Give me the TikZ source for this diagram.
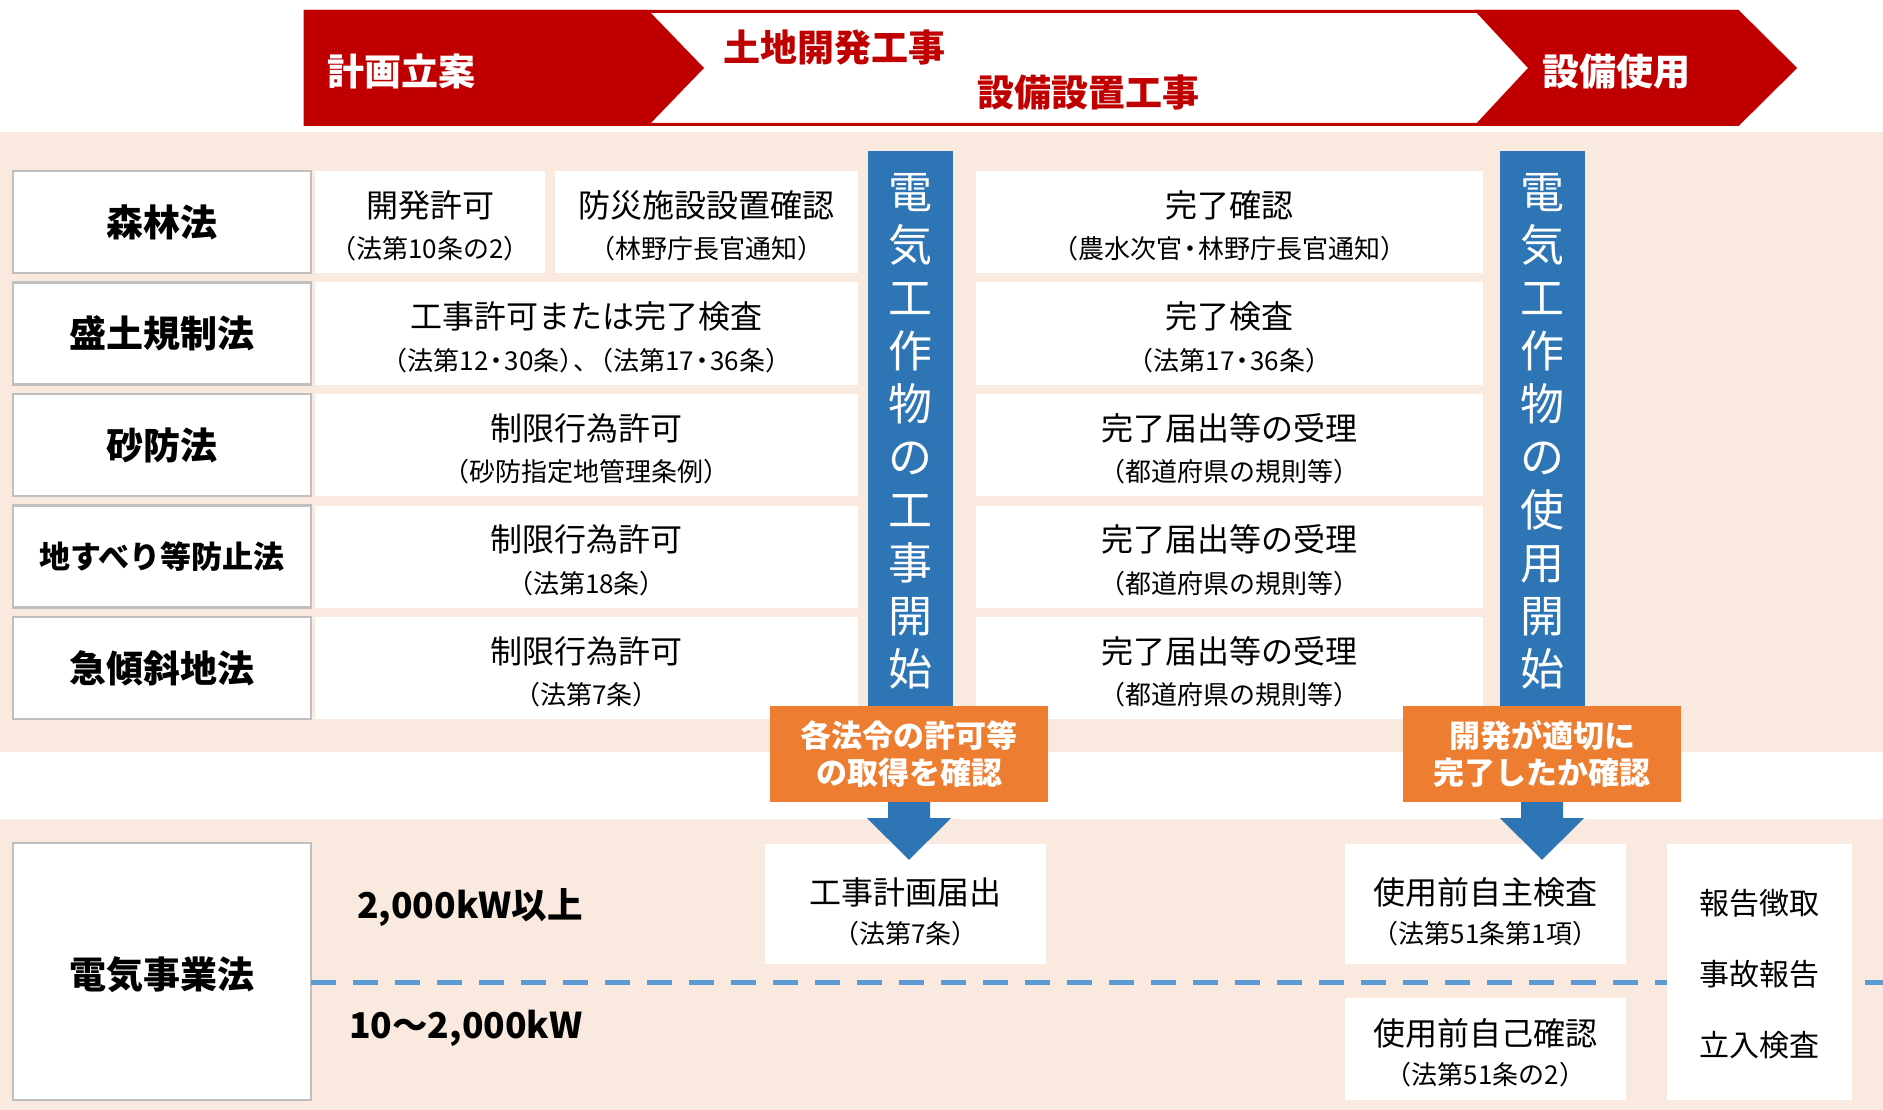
\documentclass[tikz,border=0pt]{standalone}
\usepackage{fontspec}
\setmainfont{Noto Sans CJK JP}
\usetikzlibrary{calc}
\definecolor{bred}{HTML}{C00000}
\definecolor{peach}{HTML}{FAE9DE}
\definecolor{bblue}{HTML}{2E75B6}
\definecolor{borange}{HTML}{ED7D31}
\definecolor{dblue}{HTML}{5B9BD5}
\definecolor{lgray}{HTML}{BFBFBF}
\newcommand\fs[1]{\fontsize{#1}{#1}\selectfont}
\newcommand\cellpair[9]{%
  \node[cellbg,minimum width=#4,minimum height=#5] (#1) at (#2,#3) {};
  \node[lineA] (#1a) at ([yshift=#6]#1.center) {#8};
  \node[lineB] (#1b) at ([yshift=#7]#1.center) {#9};}
\begin{document}
\begin{tikzpicture}[x=1pt,y=-1pt,
  lawbox/.style={draw=lgray,line width=2.5pt,fill=white,minimum width=298pt,minimum height=102pt,inner sep=0pt,font=\fs{37}\bfseries},
  cellbg/.style={fill=white,inner sep=0pt},
  lineA/.style={inner sep=0pt,font=\fs{32}},
  lineB/.style={inner sep=0pt,font=\fs{26}},
  bar/.style={fill=bblue,minimum width=85pt,minimum height=555pt,inner sep=0pt},
  bartext/.style={text=white,align=center,font=\fontsize{44}{53}\selectfont,inner sep=0pt},
  obox/.style={fill=borange,text=white,minimum width=278pt,minimum height=96pt,inner sep=0pt,align=center,font=\fontsize{31}{37}\selectfont\bfseries},
  bantext/.style={font=\fs{37}\bfseries,inner sep=0pt},
  arrowfill/.style={fill=bblue},
  sidetext/.style={inner sep=0pt,anchor=west,font=\fs{35.5}\bfseries},
]
\useasboundingbox (0,0) rectangle (1883,1110);
\fill[white] (0,0) rectangle (1883,1110);
% background bands
\fill[peach] (0,132) rectangle (1883,752);
\fill[peach] (0,819) rectangle (1883,1110);
% banner
\filldraw[fill=white,draw=bred,line width=3pt,line join=miter] (305,11.5) -- (1738,11.5) -- (1795,68) -- (1738,124.5) -- (305,124.5) -- cycle;
\fill[bred] (305,10) -- (648,10) -- (704,68) -- (648,126) -- (305,126) -- cycle;
\fill[bred] (1474,10) -- (1738,10) -- (1795,68) -- (1738,126) -- (1474,126) -- (1528,68) -- cycle;
\node[bantext,text=white] (plan) at (401,71) {計画立案};
\node[bantext,text=bred] (land) at (834,48) {土地開発工事};
\node[bantext,text=bred] (equip) at (1088,93) {設備設置工事};
\node[bantext,text=white] (use) at (1616,71) {設備使用};
% law boxes
\node[lawbox] (law0) at (162,222) {森林法};
\node[lawbox] (law1) at (162,333.5) {盛土規制法};
\node[lawbox] (law2) at (162,445) {砂防法};
\node[lawbox,font=\fs{31}\bfseries] (law3) at (162,556.5) {地すべり等防止法};
\node[lawbox] (law4) at (162,668) {急傾斜地法};
% middle cells
\cellpair{c0a}{430}{222}{230pt}{102pt}{17pt}{-27pt}{開発許可}{（法第10条の2）}
\cellpair{c0b}{706.5}{222}{303pt}{102pt}{17pt}{-27pt}{防災施設設置確認}{（林野庁長官通知）}
\cellpair{c1}{586.5}{333.5}{543pt}{102pt}{17pt}{-27pt}{工事許可または完了検査}{（法第12\kern-5pt・\kern-5pt30条）\kern-12pt、\kern-12pt（法第17\kern-5pt・\kern-5pt36条）}
\cellpair{c2}{586.5}{445}{543pt}{102pt}{17pt}{-27pt}{制限行為許可}{（砂防指定地管理条例）}
\cellpair{c3}{586.5}{556.5}{543pt}{102pt}{17pt}{-27pt}{制限行為許可}{（法第18条）}
\cellpair{c4}{586.5}{668}{543pt}{102pt}{17pt}{-27pt}{制限行為許可}{（法第7条）}
% right cells
\cellpair{d0}{1229.5}{222}{507pt}{102pt}{17pt}{-27pt}{完了確認}{（農水次官\kern-5pt・\kern-5pt林野庁長官通知）}
\cellpair{d1}{1229.5}{333.5}{507pt}{102pt}{17pt}{-27pt}{完了検査}{（法第17\kern-5pt・\kern-5pt36条）}
\cellpair{d2}{1229.5}{445}{507pt}{102pt}{17pt}{-27pt}{完了届出等の受理}{（都道府県の規則等）}
\cellpair{d3}{1229.5}{556.5}{507pt}{102pt}{17pt}{-27pt}{完了届出等の受理}{（都道府県の規則等）}
\cellpair{d4}{1229.5}{668}{507pt}{102pt}{17pt}{-27pt}{完了届出等の受理}{（都道府県の規則等）}
% blue bars
\node[bar] (bar1) at (910.5,428.5) {};
\node[bartext] (bar1t) at (910.5,431) {電\\気\\工\\作\\物\\の\\工\\事\\開\\始};
\node[bar] (bar2) at (1542.5,428.5) {};
\node[bartext] (bar2t) at (1542.5,431) {電\\気\\工\\作\\物\\の\\使\\用\\開\\始};
% orange boxes
\node[obox] (o1) at (909,754) {各法令の許可等\\の取得を確認};
\node[obox] (o2) at (1542,754) {開発が適切に\\完了したか確認};
% bottom section
\node[lawbox,minimum height=257pt] (elec) at (162,971.5) {};
\node[inner sep=0pt,font=\fs{37}\bfseries] (elect) at (162,975) {電気事業法};
\coordinate (dl) at (311,982);
\coordinate (dr) at (1883,982);
\draw[dblue,line width=5pt,dash pattern=on 24.5pt off 17.5pt] (dl) -- (dr);
\node[sidetext] (hi) at (357,908) {2,000kW以上};
\node[sidetext] (lo) at (349,1028) {10～2,000kW};
\cellpair{k1}{905.5}{904}{281pt}{120pt}{12pt}{-30pt}{工事計画届出}{（法第7条）}
\cellpair{u1}{1485.5}{904}{281pt}{120pt}{12pt}{-30pt}{使用前自主検査}{（法第51条第1項）}
\cellpair{u2}{1485.5}{1049}{281pt}{102pt}{16pt}{-26pt}{使用前自己確認}{（法第51条の2）}
\node[cellbg,minimum width=185pt,minimum height=256pt] (rep) at (1759.5,972) {};
\node[inner sep=0pt,align=center,font=\fontsize{30}{71}\selectfont] (rept) at (1759.5,974) {報告徴取\\事故報告\\立入検査};
% arrows
\fill[arrowfill] ($(o1.south)+(-21,0)$) -- ++(0,16) -- ++(-21,0) -- ($(o1.south |- k1.north)+(0,16)$) -- ($(o1.south)+(42,16)$) -- ++(-21,0) -- ($(o1.south)+(21,0)$) -- cycle;
\fill[arrowfill] ($(o2.south)+(-21,0)$) -- ++(0,16) -- ++(-21,0) -- ($(o2.south |- u1.north)+(0,16)$) -- ($(o2.south)+(42,16)$) -- ++(-21,0) -- ($(o2.south)+(21,0)$) -- cycle;
\end{tikzpicture}
\end{document}
